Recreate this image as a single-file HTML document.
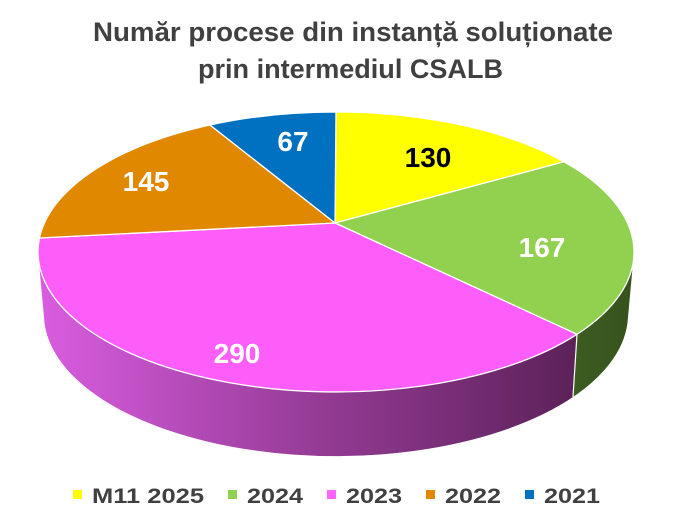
<!DOCTYPE html>
<html>
<head>
<meta charset="utf-8">
<style>
  html,body{margin:0;padding:0;background:#ffffff;}
  svg{display:block;}
  text{font-family:"Liberation Sans", Arial, sans-serif;font-weight:bold;}
</style>
</head>
<body>
<svg width="677" height="525" viewBox="0 0 677 525" xmlns="http://www.w3.org/2000/svg">
  <defs>
    <linearGradient id="pinkSide" x1="38" y1="0" x2="580" y2="0" gradientUnits="userSpaceOnUse">
      <stop offset="0" stop-color="#d95de0"/>
      <stop offset="0.5" stop-color="#973c98"/>
      <stop offset="1" stop-color="#5b2158"/>
    </linearGradient>
    <linearGradient id="greenSide" x1="573" y1="0" x2="634" y2="0" gradientUnits="userSpaceOnUse">
      <stop offset="0" stop-color="#3c5c21"/>
      <stop offset="1" stop-color="#36521d"/>
    </linearGradient>
  </defs>

  <!-- Title -->
  <text x="93" y="41" font-size="27" fill="#404040" textLength="520" lengthAdjust="spacingAndGlyphs">Număr procese din instanță soluționate</text>
  <text x="198" y="78" font-size="27" fill="#404040" textLength="305" lengthAdjust="spacingAndGlyphs">prin intermediul CSALB</text>

  <!-- Side walls -->
  <path d="M 38,252 A 298 140 0 0 0 577,334.3 L 573,397 A 292 142 0 0 1 44,317 Z" fill="url(#pinkSide)"/>
  <path d="M 577,334.3 A 298 140 0 0 0 634,252 L 628,317 A 292 142 0 0 1 573,397 Z" fill="url(#greenSide)"/>
  <line x1="577" y1="334.3" x2="573" y2="397" stroke="#ffffff" stroke-width="1.2"/>

  <!-- Top slices -->
  <g stroke="#ffffff" stroke-width="1.3" stroke-linejoin="round">
    <path d="M 335,223 L 336,112 A 298 140 0 0 1 564,161.8 Z" fill="#ffff00"/>
    <path d="M 335,223 L 564,161.8 A 298 140 0 0 1 577,334.3 Z" fill="#92d050"/>
    <path d="M 335,223 L 577,334.3 A 298 140 0 0 1 39.5,238 Z" fill="#fd5ef9"/>
    <path d="M 335,223 L 39.5,238 A 298 140 0 0 1 210,125 Z" fill="#e08800"/>
    <path d="M 335,223 L 210,125 A 298 140 0 0 1 336,112 Z" fill="#0070c0"/>
  </g>

  <!-- Data labels -->
  <text x="428" y="167" font-size="28" fill="#000000" text-anchor="middle">130</text>
  <text x="542" y="257" font-size="28" fill="#ffffff" text-anchor="middle">167</text>
  <text x="237" y="363" font-size="28" fill="#ffffff" text-anchor="middle">290</text>
  <text x="146" y="191" font-size="28" fill="#ffffff" text-anchor="middle">145</text>
  <text x="293" y="151" font-size="28" fill="#ffffff" text-anchor="middle">67</text>

  <!-- Legend -->
  <rect x="73" y="490" width="9" height="9" fill="#ffff00"/>
  <text x="92" y="503" font-size="21" fill="#404040" textLength="112" lengthAdjust="spacingAndGlyphs">M11 2025</text>
  <rect x="228" y="490" width="9" height="9" fill="#92d050"/>
  <text x="247" y="503" font-size="21" fill="#404040" textLength="56" lengthAdjust="spacingAndGlyphs">2024</text>
  <rect x="327" y="490" width="9" height="9" fill="#ff66ff"/>
  <text x="346" y="503" font-size="21" fill="#404040" textLength="56" lengthAdjust="spacingAndGlyphs">2023</text>
  <rect x="426" y="490" width="9" height="9" fill="#e08800"/>
  <text x="445" y="503" font-size="21" fill="#404040" textLength="56" lengthAdjust="spacingAndGlyphs">2022</text>
  <rect x="525" y="490" width="9" height="9" fill="#0070c0"/>
  <text x="544" y="503" font-size="21" fill="#404040" textLength="56" lengthAdjust="spacingAndGlyphs">2021</text>
</svg>
</body>
</html>
